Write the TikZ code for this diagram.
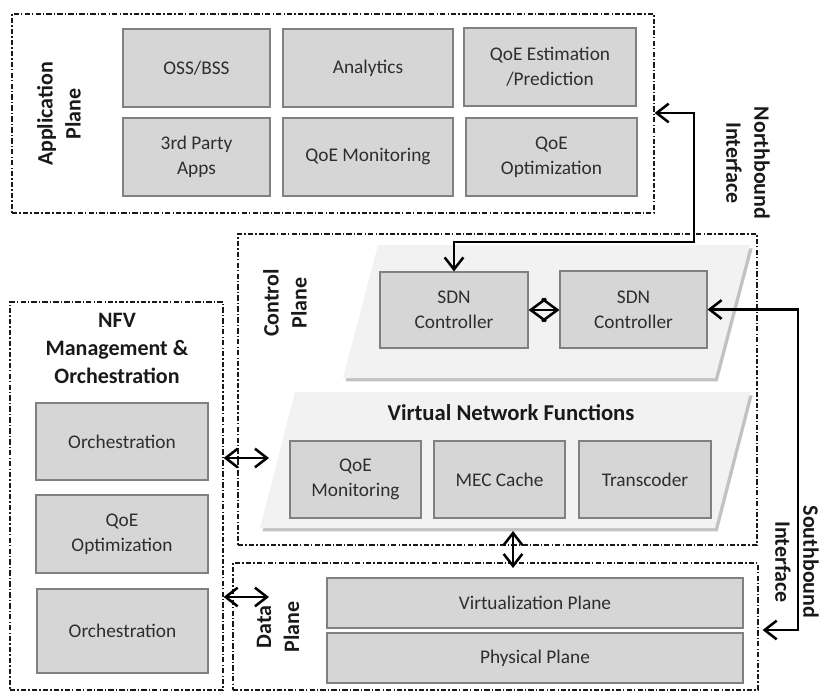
\documentclass[tikz,border=0pt]{standalone}
\usepackage{fontspec}
\setmainfont{Carlito}
\usetikzlibrary{arrows.meta,fit,shadows}
\newcommand{\bx}[6]{\node[box, minimum width={(#4-#2)*0.75pt}, minimum height={(#5-#3)*0.75pt}] (#1) at ({(#2+#4)/2},{(#3+#5)/2}) {#6};}
\begin{document}
\begin{tikzpicture}[x=0.75pt,y=-0.75pt,
  plane/.style={draw=black!90, line width=0.9pt, dash pattern=on 4pt off 1.6pt on 1pt off 1.6pt, inner sep=0pt},
  box/.style={draw=black!50, fill=black!16, line width=0.8pt, inner sep=0pt, text=black!82,
    font=\fontsize{14.5}{18.5}\selectfont, align=center},
  hdr/.style={font=\bfseries\fontsize{16.5}{21}\selectfont, text=black!90, align=center},
  conn/.style={line width=1.9pt, {Straight Barb[length=9pt,width=14pt]}-{Straight Barb[length=9pt,width=14pt]}},
  para/.style={fill=black!5, draw=none, drop shadow={shadow xshift=2pt, shadow yshift=-2.5pt, fill=black!40, opacity=0.6}}
]
\useasboundingbox (0,0) rectangle (820,695);

% ---------- planes (dash-dot frames)
\node[plane, fit={(12,14) (654,213)}] (app) {};
\node[plane, fit={(238,234) (757,545)}] (ctrl) {};
\node[plane, fit={(233,563) (758,690)}] (data) {};
\node[plane, fit={(10,302) (223,690)}] (nfv) {};

% ---------- Application plane
\node[hdr, rotate=90] (applbl) at (59,114) {Application\\Plane};
\bx{oss}{123}{29}{270}{107}{OSS/BSS}
\bx{ana}{283}{29}{453}{107}{Analytics}
\bx{qest}{464}{28}{636}{106}{QoE Estimation\\/Prediction}
\bx{third}{123}{118}{270}{196}{3rd Party\\Apps}
\bx{qmon}{283}{118}{453}{196}{QoE Monitoring}
\bx{qopt}{466}{118}{637}{196}{QoE\\Optimization}

% ---------- Control plane
\node[hdr, rotate=90] (ctrllbl) at (285,303) {Control\\Plane};
\path[para] (378,245) -- (750,245) -- (715,378) -- (343,378) -- cycle;
\path[para] (295,392) -- (750,392) -- (715,528) -- (260,528) -- cycle;
\bx{sdn1}{380}{272}{528}{348}{SDN\\Controller}
\bx{sdn2}{560}{271}{707}{348}{SDN\\Controller}
\node[hdr, font=\bfseries\fontsize{17}{21}\selectfont] (vnflbl) at (511,413) {Virtual Network Functions};
\bx{vqmon}{290}{441}{421}{518}{QoE\\Monitoring}
\bx{mec}{434}{441}{565}{518}{MEC Cache}
\bx{trans}{579}{441}{711}{518}{Transcoder}

% ---------- Data plane
\node[hdr, rotate=90] (datalbl) at (278,627) {Data\\Plane};
\bx{virt}{327}{578}{743}{628}{Virtualization Plane}
\bx{phys}{327}{633}{743}{683}{Physical Plane}

% ---------- NFV MANO
\node[hdr] (nfvlbl) at (117,348) {NFV\\Management \&\\Orchestration};
\bx{orch1}{36}{403}{208}{480}{Orchestration}
\bx{nqopt}{36}{495}{208}{573}{QoE\\Optimization}
\bx{orch2}{37}{589}{208}{673}{Orchestration}

% ---------- interface labels
\node[hdr, rotate=-90] (nblbl) at (748,163) {Northbound\\Interface};
\node[hdr, rotate=-90] (sblbl) at (797,562) {Southbound\\Interface};

% ---------- connectors
\coordinate (nbtop) at (694,113);
\coordinate (nbbend) at (694,242);
\draw[conn] (app.east |- nbtop) -- (nbtop) -- (nbbend) -| (sdn1.north);

\coordinate (sbbot) at (798,630);
\draw[conn] (sdn2.east) -- (sdn2.east -| sbbot) -- (sbbot) -- ([xshift=3pt]data.east |- sbbot);

\draw[line width=1.9pt, {Straight Barb[length=11.5pt,width=17pt]}-{Straight Barb[length=11.5pt,width=17pt]}]
  (sdn1.east) -- (sdn1.east -| sdn2.west);

\coordinate (vnfend) at (269,458);
\draw[conn] (nfv.east |- vnfend) -- (vnfend);
\coordinate (dpend) at (269,597);
\draw[conn] (nfv.east |- dpend) -- (dpend);

\coordinate (cdtop) at (513,531);
\coordinate (cdbot) at (513,568);
\draw[conn] (cdtop) -- (cdbot);
\end{tikzpicture}
\end{document}
